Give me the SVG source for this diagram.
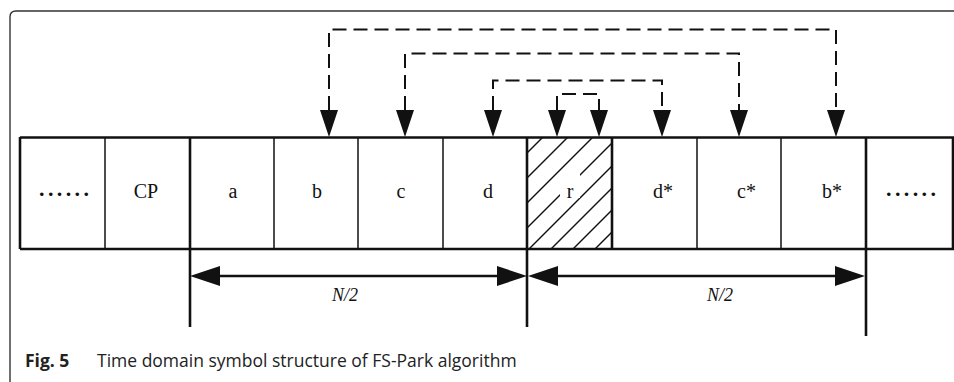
<svg xmlns="http://www.w3.org/2000/svg" width="954" height="382" viewBox="0 0 954 382">
  <style>
    .lbl { font-family: "Liberation Serif", "Times New Roman", serif; font-size: 20px; fill: #111; }
    .dim { font-family: "Liberation Serif", "Times New Roman", serif; font-size: 18px; font-style: italic; fill: #111; }
    .dots { font-family: "Liberation Serif", serif; font-size: 22px; font-weight: bold; letter-spacing: 3.4px; fill: #111; }
    .cap { font-family: "Open Sans", "Noto Sans", sans-serif; font-size: 17.5px; fill: #222; }
    .thin { stroke: #111; stroke-width: 1.5; fill: none; }
    .thick { stroke: #111; stroke-width: 2.6; fill: none; }
    .dash { stroke: #111; stroke-width: 2; fill: none; stroke-dasharray: 14 7; }
    .hatch { stroke: #111; stroke-width: 1.4; }
    .head { fill: #111; }
  </style>
  <defs>
    <clipPath id="rcell"><rect x="527" y="137" width="85" height="112"/></clipPath>
  </defs>

  <!-- caption frame -->
  <path d="M10 382 V17 Q10 11 16 11 H954" fill="none" stroke="#333" stroke-width="1.4"/>

  <!-- hatched reserved cell -->
  <g id="node-r">
    <g clip-path="url(#rcell)" class="hatch">
      <line x1="500" y1="180" x2="560" y2="120"/>
      <line x1="500" y1="205" x2="590" y2="115"/>
      <line x1="500" y1="230" x2="615" y2="115"/>
      <line x1="500" y1="255" x2="640" y2="115"/>
      <line x1="510" y1="268" x2="640" y2="138"/>
      <line x1="530" y1="270" x2="640" y2="160"/>
      <line x1="552" y1="270" x2="640" y2="182"/>
      <line x1="574" y1="270" x2="640" y2="204"/>
      <line x1="595" y1="270" x2="640" y2="225"/>
    </g>
    <rect x="560" y="172" width="20" height="26" fill="#fff"/>
    <text class="lbl" x="570" y="198" text-anchor="middle">r</text>
  </g>

  <!-- symbol cells -->
  <g id="node-dots-left"><text class="dots" x="39" y="196">......</text></g>
  <g id="node-cp"><text class="lbl" x="146" y="198" text-anchor="middle">CP</text></g>
  <g id="node-a"><text class="lbl" x="233" y="198" text-anchor="middle">a</text></g>
  <g id="node-b"><text class="lbl" x="317" y="198" text-anchor="middle">b</text></g>
  <g id="node-c"><text class="lbl" x="401" y="198" text-anchor="middle">c</text></g>
  <g id="node-d"><text class="lbl" x="488" y="198" text-anchor="middle">d</text></g>
  <g id="node-dstar"><text class="lbl" x="653" y="198">d*</text></g>
  <g id="node-cstar"><text class="lbl" x="737" y="198">c*</text></g>
  <g id="node-bstar"><text class="lbl" x="822" y="198">b*</text></g>
  <g id="node-dots-right"><text class="dots" x="886" y="196">......</text></g>

  <!-- strip outline and dividers -->
  <g id="strip">
    <line class="thin" x1="105" y1="137" x2="105" y2="249"/>
    <line class="thin" x1="274" y1="137" x2="274" y2="249"/>
    <line class="thin" x1="358" y1="137" x2="358" y2="249"/>
    <line class="thin" x1="443" y1="137" x2="443" y2="249"/>
    <line class="thick" x1="612" y1="137" x2="612" y2="249"/>
    <line class="thin" x1="697" y1="137" x2="697" y2="249"/>
    <line class="thin" x1="781" y1="137" x2="781" y2="249"/>
    <line class="thick" x1="20" y1="137" x2="20" y2="249"/>
    <line class="thick" x1="953" y1="137" x2="953" y2="249"/>
    <line class="thick" x1="20" y1="137.5" x2="954" y2="137.5"/>
    <line class="thick" x1="20" y1="249" x2="954" y2="249"/>
    <line class="thick" x1="190" y1="137" x2="190" y2="327"/>
    <line class="thick" x1="527" y1="137" x2="527" y2="327"/>
    <line class="thick" x1="866" y1="137" x2="866" y2="336"/>
  </g>

  <!-- connectors -->
  <g id="connectors">
    <!-- b <-> b* -->
    <path class="dash" d="M329 110 V29.5 H836 V110"/>
    <!-- c <-> c* -->
    <path class="dash" d="M405 110 V53.5 H739 V110"/>
    <!-- d <-> d* -->
    <path class="dash" d="M493 110 V80.5 H662 V110"/>
    <!-- inside r -->
    <path class="dash" d="M557 110 V94 H599 V110" stroke-dasharray="16 8"/>
    <g class="head">
      <polygon points="320,110 338,110 329,137"/>
      <polygon points="396,110 414,110 405,137"/>
      <polygon points="484,110 502,110 493,137"/>
      <polygon points="548,110 566,110 557,137"/>
      <polygon points="590,110 608,110 599,137"/>
      <polygon points="653,110 671,110 662,137"/>
      <polygon points="730,110 748,110 739,137"/>
      <polygon points="827,110 845,110 836,137"/>
    </g>
    <!-- N/2 spans -->
    <line class="thick" x1="210" y1="276" x2="507" y2="276" stroke-width="2"/>
    <line class="thick" x1="547" y1="276" x2="846" y2="276" stroke-width="2"/>
    <g class="head">
      <polygon points="190,276 220,266 220,286"/>
      <polygon points="527,276 497,266 497,286"/>
      <polygon points="528,276 558,266 558,286"/>
      <polygon points="865,276 835,266 835,286"/>
    </g>
  </g>

  <text class="dim" x="345" y="301" text-anchor="middle">N/2</text>
  <text class="dim" x="720" y="301" text-anchor="middle">N/2</text>

  <text class="cap" x="25" y="367"><tspan font-weight="bold">Fig. 5</tspan><tspan x="97">Time domain symbol structure of FS-Park algorithm</tspan></text>
</svg>
